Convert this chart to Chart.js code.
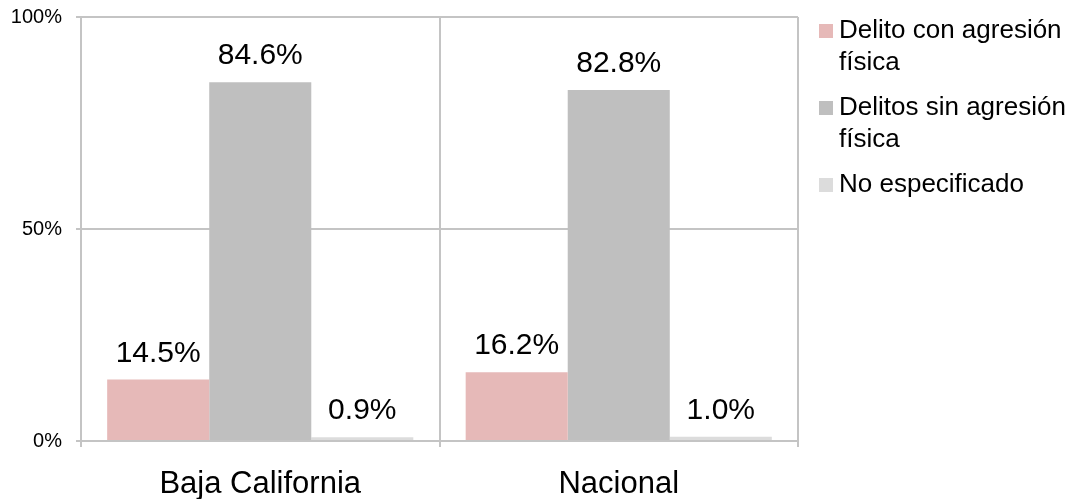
<!DOCTYPE html>
<html>
<head>
<meta charset="utf-8">
<script src="https://cdn.jsdelivr.net/npm/chart.js@4/dist/chart.umd.min.js"></script>
<style>
  body { margin: 0; background: #fff; }
  canvas { display: block; }
</style>
</head>
<body>
<canvas id="chartCanvas" width="1076" height="499"></canvas>
<script>
const canvas = document.getElementById('chartCanvas');
const c = canvas.getContext('2d');

// data
const categories = ['Baja California', 'Nacional'];
const seriesNames = [['Delito con agresión', 'física'], ['Delitos sin agresión', 'física'], ['No especificado']];
const conAgresion = [14.5, 16.2];
const sinAgresion = [84.6, 82.8];
const noEspecificado = [0.9, 1.0];
const yTicks = [0, 50, 100];

const colors = ['#E6B9B8', '#BFBFBF', '#DCDCDC'];
const gridColor = '#C4C4C4';

Chart.defaults.font.family = '"Liberation Sans", Arial, sans-serif';
Chart.defaults.color = '#000';

// value labels above each bar
const valueLabels = {
    id: 'valueLabels',
    afterDatasetsDraw(chart) {
        const ctx = chart.ctx;
        ctx.save();
        ctx.font = '30px "Liberation Sans", Arial, sans-serif';
        ctx.fillStyle = '#000';
        ctx.textAlign = 'center';
        ctx.textBaseline = 'alphabetic';
        chart.data.datasets.forEach((ds, i) => {
            chart.getDatasetMeta(i).data.forEach((bar, j) => {
                ctx.fillText(ds.data[j].toFixed(1) + '%', bar.x, bar.y - 18);
            });
        });
        ctx.restore();
    }
};

// legend on the right with wrapped labels
const sideLegend = {
    id: 'sideLegend',
    afterDraw(chart) {
        const ctx = chart.ctx;
        const x = chart.chartArea.right + 21;
        let base = 38;
        ctx.save();
        ctx.font = '26px "Liberation Sans", Arial, sans-serif';
        ctx.textAlign = 'left';
        ctx.textBaseline = 'alphabetic';
        chart.data.datasets.forEach((ds) => {
            ctx.fillStyle = ds.backgroundColor;
            ctx.fillRect(x, base - 14, 14, 14);
            ctx.fillStyle = '#000';
            ds.label.forEach((line, k) => {
                ctx.fillText(line, x + 20, base + k * 32);
            });
            base += 77;
        });
        ctx.restore();
    }
};

const datasets = [conAgresion, sinAgresion, noEspecificado].map((vals, i) => ({
    label: seriesNames[i],
    data: vals,
    backgroundColor: colors[i],
    borderWidth: 0,
    categoryPercentage: 0.854,
    barPercentage: 1
}));

new Chart(c, {
    type: 'bar',
    data: { labels: categories, datasets: datasets },
    options: {
        responsive: false,
        animation: false,
        layout: { padding: { top: 17, right: 278, left: 0, bottom: 0 } },
        plugins: { legend: { display: false }, tooltip: { enabled: false } },
        scales: {
            x: {
                grid: { color: gridColor, lineWidth: 2, tickLength: 6, offset: true },
                border: { color: gridColor, width: 2 },
                ticks: { font: { size: 31 }, padding: 19, color: '#000' },
                afterFit: (s) => { s.height = 58; s.paddingLeft = 0; s.paddingRight = 0; }
            },
            y: {
                min: 0,
                max: 100,
                afterBuildTicks: (s) => { s.ticks = yTicks.map(v => ({ value: v })); },
                grid: { color: gridColor, lineWidth: 2, tickLength: 5 },
                border: { color: gridColor, width: 2 },
                ticks: { font: { size: 20 }, padding: 14, color: '#000', callback: (v) => v + '%' },
                afterFit: (s) => { s.width = 81; s.paddingTop = 0; s.paddingBottom = 0; }
            }
        }
    },
    plugins: [valueLabels, sideLegend]
});
</script>
</body>
</html>
